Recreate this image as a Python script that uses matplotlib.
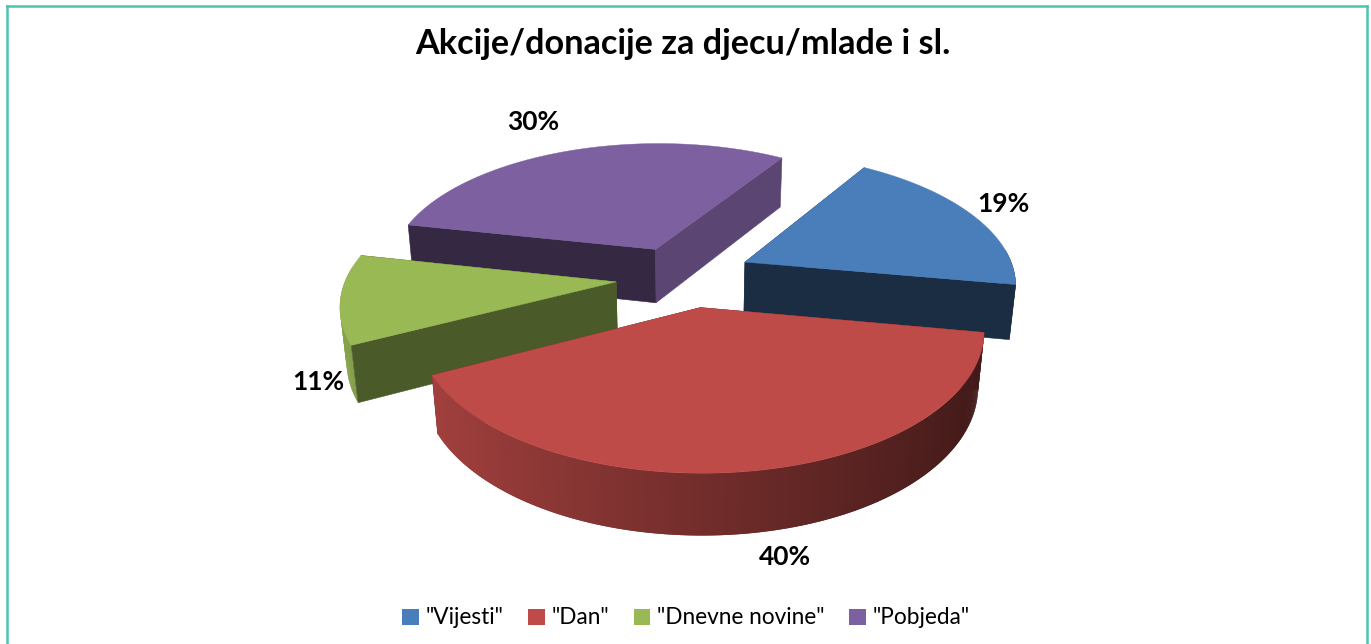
import numpy as np
import matplotlib
matplotlib.use('Agg')
import matplotlib.pyplot as plt
from matplotlib.patches import Polygon, Patch
from matplotlib.colors import to_rgb

plt.rcParams['font.family'] = ['Lato', 'DejaVu Sans']

# data
title = 'Akcije/donacije za djecu/mlade i sl.'
labels = ['"Vijesti"', '"Dan"', '"Dnevne novine"', '"Pobjeda"']
values = [18.7, 39.5, 10.7, 30.4]   # labels show them rounded

# look
colors = ['#4a7ebb', '#be4b48', '#98b954', '#7d60a0']
start_factor = [0.5, 0.5, 0.49, 0.42]   # darkening of the cut face at the slice start
end_factor = [0.36, 0.5, 0.5, 0.72]     # same for the cut face at the slice end
nudge = [(2, -1), (4, 2), (-9, 3), (-8, 1)]   # per slice shift in pixels
label_pos = [(1003, 204), (785, 557), (318, 382), (533, 122)]
draw_order = [3, 0, 2, 1]

# 3d view of the pie
first_angle = -57.8
explode = 0.23
height = 0.235
cx, cy = 687, 275
scale = 270
cam = 5.7
elev = np.radians(28.7)


def project(x, y, z):
    up = z * np.cos(elev) - y * np.sin(elev)
    dist = cam - (y * np.cos(elev) + z * np.sin(elev))
    p = cam / dist
    return cx + scale * x * p, cy - scale * up * p


def shade(color, f):
    return tuple(c * f for c in to_rgb(color))


def wall_factor(t):
    # outer wall goes darker from left to right
    return np.interp(np.cos(t), [-1, 0, 1], [0.88, 0.6, 0.33])


fig = plt.figure(figsize=(13.71, 6.44), dpi=100)
ax = fig.add_axes([0, 0, 1, 1])
ax.set_xlim(0, 1371)
ax.set_ylim(644, 0)
ax.axis('off')

# frame, open at the bottom
frame_color = '#4cc4ae'
ax.plot([7, 7], [644, 6], color=frame_color, lw=1.8)
ax.plot([7, 1367], [6, 6], color=frame_color, lw=1.8)
ax.plot([1367, 1367], [6, 644], color=frame_color, lw=1.8)

shares = np.array(values) / sum(values) * 360
starts = first_angle + np.concatenate([[0], np.cumsum(shares)[:-1]])

for i in draw_order:
    a0 = np.radians(starts[i])
    a1 = np.radians(starts[i] + shares[i])
    mid = (a0 + a1) / 2
    ox, oy = explode * np.cos(mid), explode * np.sin(mid)
    ts = np.linspace(a0, a1, int(shares[i]) * 2 + 2)
    col = colors[i]
    nx, ny = nudge[i]

    def pt(x, y, z):
        sx, sy = project(x, y, z)
        return sx + nx, sy + ny

    def cut_face(t, f):
        x1, y1 = ox + np.cos(t), oy + np.sin(t)
        pts = [pt(ox, oy, 0), pt(x1, y1, 0), pt(x1, y1, -height), pt(ox, oy, -height)]
        c = shade(col, f)
        ax.add_patch(Polygon(pts, closed=True, fc=c, ec=c, lw=0.4))

    arc_x = ox + np.cos(ts)
    arc_y = oy + np.sin(ts)

    # a cut face looks to the viewer only on one side of the pie
    start_front = -np.cos(a0) > 0
    end_front = np.cos(a1) > 0
    if not start_front:
        cut_face(a0, start_factor[i])
    if not end_front:
        cut_face(a1, end_factor[i])

    # outer wall in small pieces for the gradient, each one overlaps the next
    for k in range(len(ts) - 1):
        if np.sin((ts[k] + ts[k + 1]) / 2) < -0.1:
            continue
        n = min(k + 2, len(ts) - 1)
        pts = [pt(arc_x[k], arc_y[k], 0), pt(arc_x[n], arc_y[n], 0),
               pt(arc_x[n], arc_y[n], -height), pt(arc_x[k], arc_y[k], -height)]
        c = shade(col, wall_factor((ts[k] + ts[k + 1]) / 2))
        ax.add_patch(Polygon(pts, closed=True, fc=c, ec='none'))

    if start_front:
        cut_face(a0, start_factor[i])
    if end_front:
        cut_face(a1, end_factor[i])

    top = [pt(ox, oy, 0)] + [pt(x, y, 0) for x, y in zip(arc_x, arc_y)]
    ax.add_patch(Polygon(top, closed=True, fc=col, ec=col, lw=0.3))

ax.text(683, 44, title, ha='center', va='center', fontsize=24.7, fontweight='bold', color='black')

for v, (lx, ly) in zip(values, label_pos):
    ax.text(lx, ly, f'{round(v)}%', ha='center', va='center', fontsize=19, fontweight='bold', color='black')

handles = [Patch(fc=c, ec='none') for c in colors]
fig.legend(handles, labels, loc='center', bbox_to_anchor=(686 / 1371, 1 - 618 / 644), ncols=4,
           frameon=False, fontsize=16.3, handlelength=0.72, handleheight=0.72,
           handletextpad=0.3, columnspacing=1.1)

fig.savefig('out.png', dpi=100)
